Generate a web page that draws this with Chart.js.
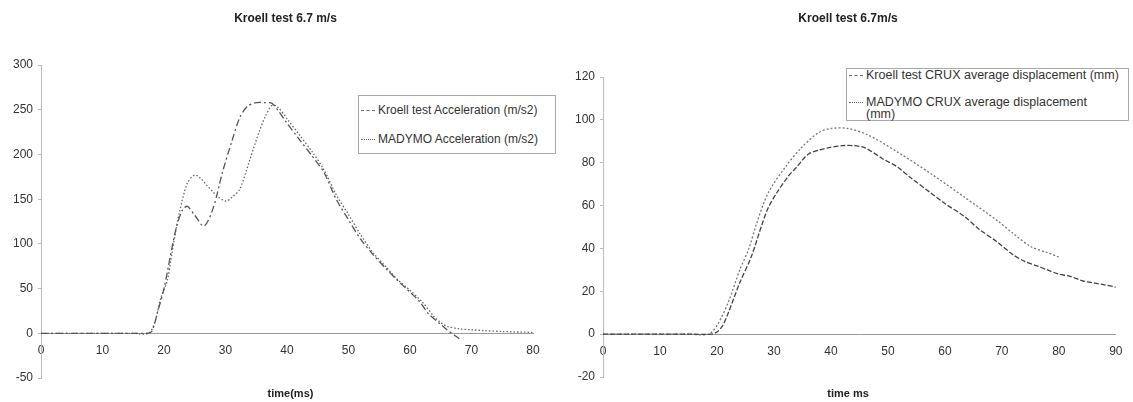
<!DOCTYPE html>
<html>
<head>
<meta charset="utf-8">
<script src="https://cdn.jsdelivr.net/npm/chart.js@4.4.0/dist/chart.umd.min.js"></script>
<style>
  body { margin: 0; background: #fff; font-family: "Liberation Sans", Arial, sans-serif; }
  .wrap { position: absolute; top: 0; height: 402px; }
  #leftWrap { left: 0; width: 566px; }
  #rightWrap { left: 566px; width: 567px; }
  .legend { position: absolute; border: 1px solid #aaa; background: #fff; color: #333; z-index: 2; }
  .item { position: absolute; white-space: nowrap; line-height: 11px; }
  .item i { display: inline-block; width: 14px; border-top: 1px dashed #666; vertical-align: middle; margin-right: 3px; }
  .item i.dot { border-top-style: dotted; }
</style>
</head>
<body>
<div class="wrap" id="leftWrap"><canvas id="chartAcc"></canvas></div>
<div class="wrap" id="rightWrap"><canvas id="chartDisp"></canvas></div>

<div class="legend" style="left:358px; top:95px; width:196px; height:57px; font-size:12px;">
  <div class="item" style="left:2px; top:9px;"><i></i>Kroell test Acceleration (m/s2)</div>
  <div class="item" style="left:2px; top:38px;"><i class="dot"></i>MADYMO Acceleration (m/s2)</div>
</div>
<div class="legend" style="left:846px; top:68px; width:281px; height:51px; font-size:12.5px;">
  <div class="item" style="left:2px; top:1px;"><i></i>Kroell test CRUX average displacement (mm)</div>
  <div class="item" style="left:2px; top:27px; line-height:12px;"><i class="dot"></i>MADYMO CRUX average displacement<br><span style="padding-left:17px">(mm)</span></div>
</div>

<script>
// acceleration (m/s2) vs time (ms)
const accTimeKroell = [0, 5, 10, 15, 17, 18, 19, 20, 21, 22, 23, 23.8, 25, 26.5, 28, 29.5, 31, 32.3, 33.6, 35, 36.5, 37.6,
  40, 42, 44, 46, 48, 50, 52, 54, 56, 58, 60, 61.5, 63, 65, 66, 67.4, 68];
const accKroell = [0, 0, 0, 0, 0, 2, 25, 50, 85, 118, 138, 142, 132, 120, 140, 180, 214, 241, 254, 258, 258, 257,
  235, 217, 199, 180, 150, 127, 105, 88, 73, 59, 46, 36, 22, 10, 4, -3, -6];

const accTimeMadymo = [0, 5, 10, 15, 17.5, 18.5, 19.5, 20.5, 21.2, 22, 22.5, 23.8, 25, 26, 26.9, 28, 28.7, 30.1, 31, 32.3,
  33.9, 35.5, 36.5, 37.6, 38.5, 40, 42, 44, 46, 48, 50, 52, 54, 56, 58, 60, 62, 64, 65, 66, 68, 70, 72, 75, 80];
const accMadymo = [0, 0, 0, 0, 0, 12, 40, 58, 86, 118, 135, 168, 177, 173, 166, 158, 153, 148, 152, 161,
  193, 226, 243, 255, 253, 240, 222, 204, 183, 155, 133, 110, 90, 75, 60, 48, 35, 18, 12, 8, 5, 4, 3, 2, 1];

// CRUX average displacement (mm) vs time (ms)
const dispTimeKroell = [0, 5, 10, 15, 19, 20, 21, 22, 24, 26, 28, 29, 30.5, 32.6, 34, 36, 38, 39.5, 42, 44, 46, 49, 51.7,
  54, 57.5, 60, 63.4, 66, 69.2, 72, 74, 76, 78, 80, 82, 84, 86, 88, 90];
const dispKroell = [0, 0, 0, 0, 0, 1, 4, 10, 24, 36, 52, 59, 66, 74, 78, 84, 86, 87, 88, 88, 87, 82, 78,
  73, 66, 61, 55, 49, 43, 37, 34, 32, 30, 28, 27, 25, 24, 23, 22];

const dispTimeMadymo = [0, 5, 10, 15, 18.5, 20, 22, 24, 25.6, 27, 29, 32, 34.8, 37.8, 40, 43, 46.5, 51.7, 57.5, 63.4,
  69.2, 72, 75, 78, 80];
const dispMadymo = [0, 0, 0, 0, 0, 4, 15, 30, 40, 52, 66, 78, 87, 94, 96, 96, 93, 85, 75, 64,
  53, 47, 41, 38, 36];

const font = "'Liberation Sans', Arial, sans-serif";
const pts = (t, v) => t.map((x, i) => ({ x: x, y: v[i] }));

// nudge the title / x-axis title blocks sideways so they sit where the original put them
const shiftTitles = {
  id: "shiftTitles",
  afterLayout(chart, args, opts) {
    chart.boxes.forEach((b) => {
      if (b.options && "text" in b.options && b.fullSize) {
        const dx = b.options.position === "bottom" ? opts.bottom : opts.top;
        b.left += dx;
        b.right += dx;
      }
    });
  },
};

function makeChart(id, cfg) {
  return new Chart(document.getElementById(id), {
    type: "line",
    data: {
      datasets: cfg.series.map((s) => ({
        label: s.label,
        data: pts(s.t, s.v),
        borderColor: s.color,
        borderWidth: 1.3,
        borderDash: s.dash,
        pointRadius: 0,
        tension: 0.3,
        fill: false,
      })),
    },
    plugins: [shiftTitles],
    options: {
      responsive: true,
      maintainAspectRatio: false,
      animation: false,
      layout: { padding: { left: 0, right: cfg.padRight, top: 0, bottom: 0 } },
      plugins: {
        legend: { display: false },
        tooltip: { enabled: false },
        shiftTitles: cfg.shift,
        title: {
          display: true,
          text: cfg.title,
          color: "#222",
          font: { family: font, size: 12, weight: "bold" },
          padding: { top: 11.5, bottom: cfg.titleGap },
        },
        subtitle: {
          display: true,
          position: "bottom",
          text: cfg.xTitle,
          color: "#222",
          font: { family: font, size: 11, weight: "bold" },
          padding: { top: cfg.subGap, bottom: 1.4 },
        },
      },
      scales: {
        x: {
          type: "linear",
          min: 0,
          max: cfg.xMax,
          position: { y: 0 },
          ticks: { stepSize: 10, color: "#333", font: { family: font, size: 12 }, padding: 10.5, maxRotation: 0 },
          grid: { display: false, drawTicks: false },
          border: { color: "#999", width: 1 },
        },
        y: {
          min: cfg.yMin,
          max: cfg.yMax,
          ticks: { stepSize: cfg.yStep, color: "#333", font: { family: font, size: 12 }, padding: 5 },
          grid: { drawOnChartArea: false, tickLength: 3, color: "#bbb" },
          border: { color: "#bbb", dash: [2, 2] },
          afterFit: (s) => { s.width = cfg.yWidth; },
        },
      },
    },
  });
}

makeChart("chartAcc", {
  title: "Kroell test 6.7 m/s",
  xTitle: "time(ms)",
  xMax: 80, yMin: -50, yMax: 300, yStep: 50,
  yWidth: 41, padRight: 33, titleGap: 39.2, subGap: 9.4,
  shift: { top: 19, bottom: 24 },
  series: [
    { label: "Kroell test Acceleration (m/s2)", t: accTimeKroell, v: accKroell, color: "#555", dash: [7, 3, 2, 3] },
    { label: "MADYMO Acceleration (m/s2)", t: accTimeMadymo, v: accMadymo, color: "#666", dash: [1.5, 2] },
  ],
});

makeChart("chartDisp", {
  title: "Kroell test 6.7m/s",
  xTitle: "time ms",
  xMax: 90, yMin: -20, yMax: 120, yStep: 20,
  yWidth: 37, padRight: 13, titleGap: 51.2, subGap: 10.4,
  shift: { top: 5, bottom: 5 },
  series: [
    { label: "Kroell test CRUX average displacement (mm)", t: dispTimeKroell, v: dispKroell, color: "#444", dash: [5, 2] },
    { label: "MADYMO CRUX average displacement (mm)", t: dispTimeMadymo, v: dispMadymo, color: "#777", dash: [2, 2] },
  ],
});
</script>
</body>
</html>
